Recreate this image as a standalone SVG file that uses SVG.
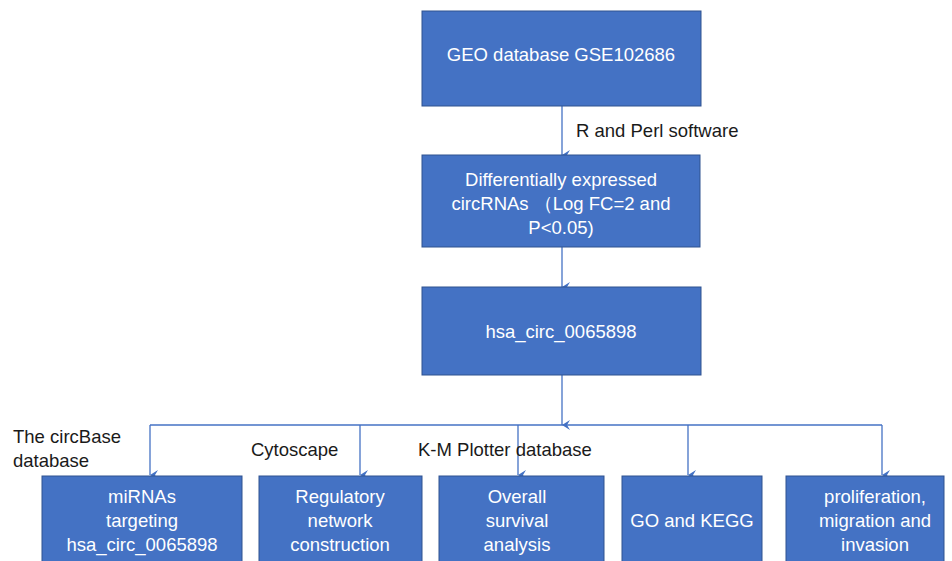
<svg xmlns="http://www.w3.org/2000/svg" width="952" height="561" viewBox="0 0 952 561">
<defs>
<style>
.box{fill:#4472C4;stroke:#2F528F;stroke-width:1}
.bt{font-family:"Liberation Sans",Arial,sans-serif;font-size:18.5px;fill:#ffffff;text-anchor:middle}
.lb{font-family:"Liberation Sans",Arial,sans-serif;font-size:18.5px;fill:#1a1a1a}
.ln{stroke:#4472C4;stroke-width:1.3;fill:none}
</style>
<marker id="ah" markerWidth="10" markerHeight="10" refX="5" refY="8" orient="auto" markerUnits="userSpaceOnUse" viewBox="0 0 10 10">
<path d="M0,0 L5,8 L10,0 L5,3 Z" fill="#4472C4"/>
</marker>
</defs>
<rect width="952" height="561" fill="#ffffff"/>
<g id="connectors">
<line class="ln" x1="562" y1="106" x2="562" y2="155" marker-end="url(#ah)"/>
<line class="ln" x1="562" y1="247" x2="562" y2="287" marker-end="url(#ah)"/>
<line class="ln" x1="562" y1="375" x2="562" y2="425" marker-end="url(#ah)"/>
<line class="ln" x1="150" y1="425" x2="882" y2="425"/>
<line class="ln" x1="150" y1="425" x2="150" y2="475" marker-end="url(#ah)"/>
<line class="ln" x1="360" y1="425" x2="360" y2="475" marker-end="url(#ah)"/>
<line class="ln" x1="518" y1="425" x2="518" y2="475" marker-end="url(#ah)"/>
<line class="ln" x1="688" y1="425" x2="688" y2="475" marker-end="url(#ah)"/>
<line class="ln" x1="882" y1="425" x2="882" y2="475" marker-end="url(#ah)"/>
</g>
<g id="labels">
<text class="lb" x="576" y="137">R and Perl software</text>
<text class="lb" x="13" y="443">The circBase</text>
<text class="lb" x="13" y="467">database</text>
<text class="lb" x="251" y="456">Cytoscape</text>
<text class="lb" x="418" y="456">K-M Plotter database</text>
</g>
<g id="n1">
<rect class="box" x="422" y="11" width="279" height="95"/>
<text class="bt" x="561" y="61">GEO database GSE102686</text>
</g>
<g id="n2">
<rect class="box" x="422" y="155" width="278" height="92"/>
<text class="bt" x="561" y="186">Differentially expressed</text>
<text class="bt" x="561" y="210">circRNAs （Log FC=2 and</text>
<text class="bt" x="561" y="234">P&lt;0.05)</text>
</g>
<g id="n3">
<rect class="box" x="422" y="287" width="279" height="88"/>
<text class="bt" x="561" y="338">hsa_circ_0065898</text>
</g>
<g id="n4">
<rect class="box" x="42" y="476" width="200" height="90"/>
<text class="bt" x="142" y="503">miRNAs</text>
<text class="bt" x="142" y="527">targeting</text>
<text class="bt" x="142" y="551">hsa_circ_0065898</text>
</g>
<g id="n5">
<rect class="box" x="259" y="476" width="163" height="90"/>
<text class="bt" x="340" y="503">Regulatory</text>
<text class="bt" x="340" y="527">network</text>
<text class="bt" x="340" y="551">construction</text>
</g>
<g id="n6">
<rect class="box" x="439" y="476" width="165" height="90"/>
<text class="bt" x="517" y="503">Overall</text>
<text class="bt" x="517" y="527">survival</text>
<text class="bt" x="517" y="551">analysis</text>
</g>
<g id="n7">
<rect class="box" x="622" y="476" width="140" height="90"/>
<text class="bt" x="692" y="527">GO and KEGG</text>
</g>
<g id="n8">
<rect class="box" x="786" y="476" width="158" height="90"/>
<text class="bt" x="875" y="503">proliferation,</text>
<text class="bt" x="875" y="527">migration and</text>
<text class="bt" x="875" y="551">invasion</text>
</g>
</svg>
